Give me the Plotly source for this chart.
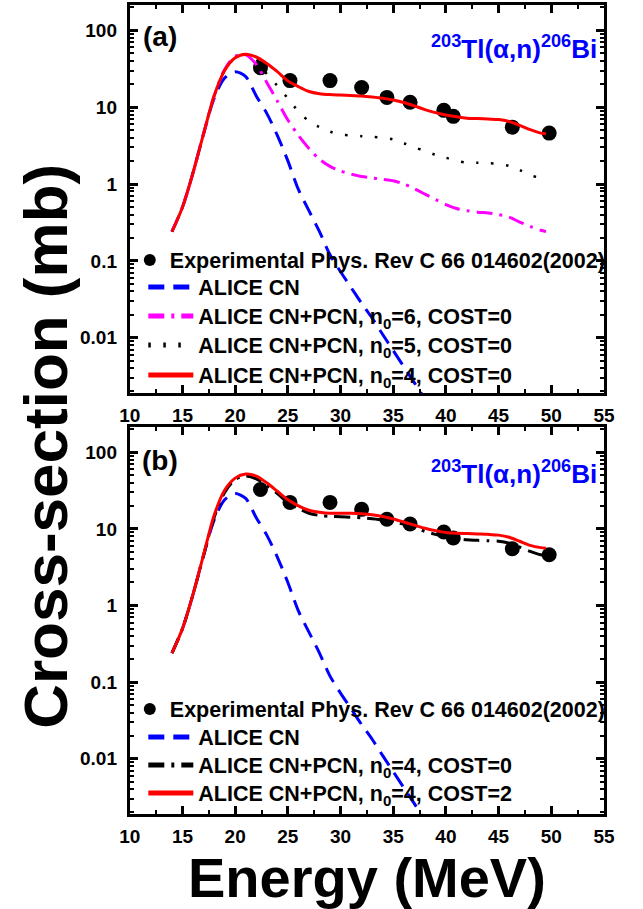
import plotly.graph_objects as go

# ---------------- data ----------------
E_exp = [22.4, 25.2, 29.0, 32.0, 34.4, 36.6, 39.8, 40.7, 46.3, 49.8]
xs_exp = [32.7, 22.2, 22.2, 18.0, 13.4, 11.6, 9.1, 7.6, 5.5, 4.6]
err_y_exp = [3.3, 2.2, 2.2, 1.8, 1.3, 1.2, 0.9, 0.8, 0.6, 0.5]
err_x_exp = [0.5, 0.5, 0.5, 0.5, 0.5, 0.5, 0.5, 0.5, 0.5, 0.5]

E_cn = [14, 15, 16, 17, 18, 19, 20, 21, 22, 23, 24, 25, 26, 27, 28, 29, 30,
        31, 32, 33, 34, 35, 36, 37, 38]
xs_cn = [0.24, 0.5, 1.4, 4.5, 13, 24, 29, 25, 14, 8.3, 4.3, 2.0, 0.85, 0.45,
         0.24, 0.12, 0.072, 0.045, 0.028, 0.018, 0.011, 0.0068, 0.0042,
         0.0026, 0.0016]

E_th = [14, 15, 16, 17, 18, 19, 20, 21, 22, 23, 24, 25, 26, 27, 28, 29, 30,
        31, 32, 33, 34, 35, 36, 37, 38, 39, 40, 41, 42, 43, 44, 45, 46, 47,
        48, 49, 49.5]
xs_n6 = [0.24, 0.5, 1.4, 4.5, 14, 31, 46, 48, 36, 21, 12, 6.8, 4.3, 2.9, 2.1,
         1.7, 1.48, 1.35, 1.25, 1.2, 1.15, 1.1, 1.0, 0.87, 0.74, 0.63, 0.54,
         0.48, 0.45, 0.43, 0.42, 0.40, 0.37, 0.32, 0.28, 0.25, 0.24]
xs_n5 = [0.24, 0.5, 1.4, 4.5, 14, 30, 44, 49, 42, 27, 19, 13, 8.8, 6.6, 5.5,
         4.8, 4.4, 4.3, 4.2, 4.1, 4.0, 3.8, 3.4, 3.0, 2.7, 2.4, 2.2, 2.0,
         1.9, 1.89, 1.87, 1.83, 1.72, 1.52, 1.3, 1.2, 1.15]
xs_n4 = [0.24, 0.5, 1.4, 4.5, 14, 30, 44, 49, 45, 37, 29, 22, 18.5, 16, 15,
         14.6, 14.4, 14.2, 14.0, 13.6, 13.1, 12.4, 11.5, 10.4, 9.3, 8.5, 7.9,
         7.5, 7.2, 7.1, 7.0, 6.9, 6.5, 5.8, 5.1, 4.6, 4.5]
xs_n4_cost2 = [0.24, 0.5, 1.4, 4.6, 15, 32, 46, 52, 49, 40, 31, 24, 20, 17.5,
               16.5, 16, 16, 16, 15.8, 15.3, 14.5, 13.5, 12.3, 11.2, 10.2, 9.5,
               9.0, 8.8, 8.7, 8.6, 8.5, 8.3, 7.8, 6.9, 6.1, 5.7, 5.6]

x_ticks = [10, 15, 20, 25, 30, 35, 40, 45, 50, 55]
y_tickvals = [0.01, 0.1, 1, 10, 100]
y_ticktext = ["0.01", "0.1", "1", "10", "100"]

label_exp = "Experimental Phys. Rev C 66 014602(2002)"
label_cn = "ALICE CN"
label_n6 = "ALICE CN+PCN, n<sub>0</sub>=6, COST=0"
label_n5 = "ALICE CN+PCN, n<sub>0</sub>=5, COST=0"
label_n4 = "ALICE CN+PCN, n<sub>0</sub>=4, COST=0"
label_c2 = "ALICE CN+PCN, n<sub>0</sub>=4, COST=2"
reaction = "<sup>203</sup>Tl(α,n)<sup>206</sup>Bi"

# ---------------- figure ----------------
W, H = 643, 909
FONT = "Liberation Sans"

def px_x(p):
    return p / W

def px_y(p):
    return 1 - p / H

fig = go.Figure()

def add_panel(xa, ya, curves, legs):
    fig.add_trace(go.Scatter(
        x=E_exp, y=xs_exp, mode="markers", name=label_exp,
        xaxis=xa, yaxis=ya, legend=legs[0],
        marker=dict(symbol="circle", size=15, color="black"),
        error_y=dict(type="data", array=err_y_exp, color="black",
                     thickness=2, width=3),
        error_x=dict(type="data", array=err_x_exp, color="black",
                     thickness=2, width=3),
    ))
    for (xv, yv, name, color, dash, width), lg in zip(curves, legs[1:]):
        fig.add_trace(go.Scatter(
            x=xv, y=yv, mode="lines", name=name, xaxis=xa, yaxis=ya,
            legend=lg,
            line=dict(color=color, dash=dash, width=width, shape="spline",
                      smoothing=0.8),
        ))

curves_a = [
    (E_cn, xs_cn, label_cn, "#0000ff", "16px,9px", 3),
    (E_th, xs_n6, label_n6, "#ff00ff", "16px,7px,3px,7px", 3),
    (E_th, xs_n5, label_n5, "black", "2.5px,12.5px", 2.5),
    (E_th, xs_n4, label_n4, "#ff0000", "solid", 3),
]
curves_b = [
    (E_cn, xs_cn, label_cn, "#0000ff", "16px,9px", 3),
    (E_th, xs_n4, label_n4, "black", "16px,7px,3px,7px", 3),
    (E_th, xs_n4_cost2, label_c2, "#ff0000", "solid", 3),
]

add_panel("x", "y", curves_a, ["legend", "legend2", "legend3", "legend4", "legend5"])
add_panel("x2", "y2", curves_b, ["legend6", "legend7", "legend8", "legend9"])

x_dom = [px_x(123), px_x(614)]
ya_dom = [px_y(393), px_y(5)]
yb_dom = [px_y(814), px_y(427)]

tickfont = dict(family=FONT, size=19, color="black", weight="bold")

def xaxis_cfg(anchor):
    return dict(
        domain=x_dom, anchor=anchor, range=[10, 55], tickvals=x_ticks,
        ticks="inside", ticklen=8, tickwidth=2.5, tickcolor="black",
        showline=True, linewidth=3, linecolor="black", mirror="allticks",
        showgrid=False, zeroline=False, tickfont=tickfont,
        minor=dict(dtick=2.5, tick0=10, ticks="inside", ticklen=4,
                   tickwidth=2, tickcolor="black", showgrid=False),
        ticklabelstandoff=3,
    )

def yaxis_cfg(anchor, dom):
    return dict(
        domain=dom, anchor=anchor, type="log", range=[-2.72, 2.33],
        tickmode="array", tickvals=y_tickvals, ticktext=y_ticktext,
        ticks="inside", ticklen=8, tickwidth=2.5, tickcolor="black",
        showline=True, linewidth=3, linecolor="black", mirror="allticks",
        showgrid=False, zeroline=False, tickfont=tickfont,
        minor=dict(dtick="D1", ticks="inside", ticklen=4, tickwidth=2,
                   tickcolor="black", showgrid=False),
        ticklabelstandoff=6,
    )

legfont = dict(family=FONT, size=21.5, color="black", weight="bold")

def leg(xpx, ypx, itemwidth):
    return dict(x=px_x(xpx), y=px_y(ypx), xanchor="left", yanchor="middle",
                bgcolor="rgba(0,0,0,0)", borderwidth=0, font=legfont,
                itemwidth=itemwidth, itemsizing="constant",
                tracegroupgap=0)

layout = dict(
    width=W, height=H, margin=dict(l=0, r=0, t=0, b=0),
    paper_bgcolor="white", plot_bgcolor="white", showlegend=True,
    xaxis=xaxis_cfg("y"), yaxis=yaxis_cfg("x", ya_dom),
    xaxis2=xaxis_cfg("y2"), yaxis2=yaxis_cfg("x2", yb_dom),
    legend=leg(123, 260, 30),
    legend2=leg(137, 287, 45),
    legend3=leg(137, 316, 45),
    legend4=leg(137, 345, 45),
    legend5=leg(137, 375, 45),
    legend6=leg(123, 709, 30),
    legend7=leg(137, 737, 45),
    legend8=leg(137, 765, 45),
    legend9=leg(137, 793, 45),
)
fig.update_layout(**layout)

annots = [
    dict(text="(a)", x=px_x(154), y=px_y(36), font=dict(size=28)),
    dict(text="(b)", x=px_x(154), y=px_y(460), font=dict(size=28)),
    dict(text=reaction, x=px_x(609), y=px_y(48), xanchor="right",
         font=dict(size=26, color="#0000ff")),
    dict(text=reaction, x=px_x(609), y=px_y(472), xanchor="right",
         font=dict(size=26, color="#0000ff")),
    dict(text="Cross-section (mb)", x=px_x(35), y=px_y(446), textangle=-90,
         font=dict(size=62)),
    dict(text="Energy (MeV)", x=px_x(369), y=px_y(877), font=dict(size=56)),
]
for a in annots:
    f = dict(family=FONT, color="black", weight="bold")
    f.update(a.pop("font"))
    a.setdefault("xanchor", "center")
    fig.add_annotation(xref="paper", yref="paper", showarrow=False,
                       yanchor="middle", font=f, **a)

fig.write_html("out.html", config={"displayModeBar": False},
               post_script="document.body.style.margin='0px';")
